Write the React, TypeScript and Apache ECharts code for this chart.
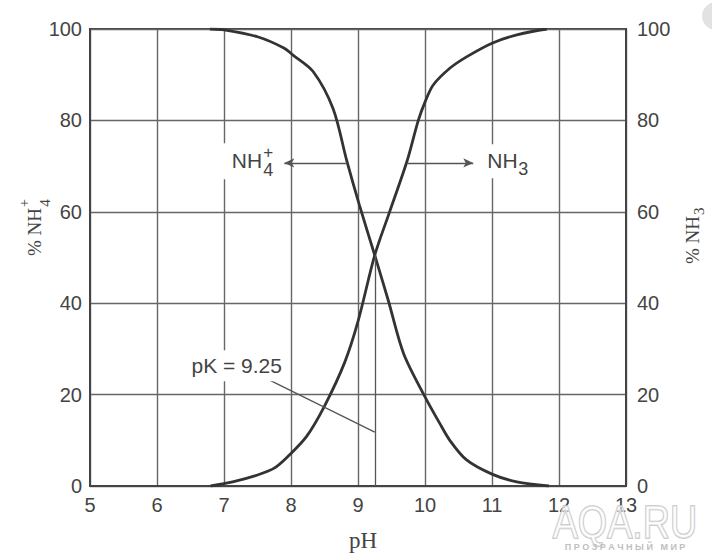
import React, { useEffect, useRef } from "react";
import * as echarts from "echarts";

// pH values and %
const NH4_PH = [6.79, 7.0, 7.5, 7.9, 8.03, 8.33, 8.63, 8.83, 9.02, 9.25, 9.45, 9.68, 10.0, 10.22, 10.37, 10.62, 11.0, 11.37, 11.85];
const NH4_PCT = [100, 99.8, 98.3, 95.8, 94.3, 90.7, 82.5, 71.3, 61.5, 50.5, 40.7, 29.0, 19.5, 13.7, 10.0, 5.7, 2.6, 0.9, 0];
const NH3_PH = [6.8, 7.13, 7.5, 7.75, 7.95, 8.23, 8.5, 8.8, 9.0, 9.25, 9.46, 9.73, 9.9, 10.0, 10.12, 10.37, 10.62, 11.0, 11.37, 11.82];
const NH3_PCT = [0, 0.9, 2.4, 3.9, 6.4, 10.8, 17.5, 27.0, 36.0, 50.5, 59.5, 71.0, 80.0, 84.0, 87.7, 91.4, 93.9, 96.9, 98.7, 100];

const PK = 9.25;
const CROSS = 50.5;
const ARROW_Y = 70.7;
const NH4_ARROW = [8.84, 7.9];
const NH3_ARROW = [9.73, 10.72];
const PK_LEADER = [[7.62, 23.6], [PK, 11.8]];
const NH4_LABEL = [7.57, 71.3];
const NH3_LABEL = [10.93, 71.3];
const PK_LABEL = [7.19, 26.3];
const PK_TEXT = "pK = 9.25";

const SANS = '"Liberation Sans", Arial, sans-serif';
const SERIF = '"Liberation Serif", "Times New Roman", serif';
const TXT = "#444";

export default function App() {
  const ref = useRef<HTMLDivElement>(null);
  useEffect(() => {
    const el = ref.current!;
    const chart = echarts.init(el, null, { renderer: "svg" });
    const ax = {
      type: "value",
      min: 0,
      max: 100,
      interval: 20,
      axisTick: { show: false },
      axisLine: { show: true, lineStyle: { color: "#444", width: 2 } },
      axisLabel: { color: TXT, fontSize: 20, fontFamily: SANS },
    };
    const arrowLine = (from: number, to: number) => [
      { coord: [from, ARROW_Y], symbol: "none" },
      { coord: [to, ARROW_Y], symbol: "arrow", symbolSize: [7, 10] },
    ];
    chart.setOption({
      animation: false,
      grid: { left: 90, right: 86, top: 29, bottom: 74, show: true, borderColor: "#444", borderWidth: 2, backgroundColor: "#fff" },
      xAxis: {
        type: "value",
        min: 5,
        max: 13,
        interval: 1,
        axisTick: { show: false },
        axisLine: { show: true, lineStyle: { color: "#444", width: 2 } },
        axisLabel: { color: TXT, fontSize: 20, fontFamily: SANS, margin: 9, showMinLabel: true, showMaxLabel: true },
        splitLine: { show: true, lineStyle: { color: "#666", width: 1.4 } },
      },
      yAxis: [
        { ...ax, position: "left", axisLabel: { ...ax.axisLabel, margin: 8 }, splitLine: { show: true, lineStyle: { color: "#666", width: 1.4 } } },
        { ...ax, position: "right", axisLabel: { ...ax.axisLabel, margin: 11 }, splitLine: { show: false } },
      ],
      series: [
        {
          type: "line",
          name: "NH4+",
          data: NH4_PH.map((x, i) => [x, NH4_PCT[i]]),
          showSymbol: false,
          smooth: 0.3,
          lineStyle: { color: "#333", width: 2.8 },
          silent: true,
          markLine: {
            silent: true,
            animation: false,
            symbol: "none",
            label: { show: false },
            lineStyle: { color: "#555", width: 1.3, type: "solid" },
            data: [
              [{ coord: [PK, 0] }, { coord: [PK, CROSS] }],
              arrowLine(NH4_ARROW[0], NH4_ARROW[1]),
              arrowLine(NH3_ARROW[0], NH3_ARROW[1]),
              [{ coord: PK_LEADER[0] }, { coord: PK_LEADER[1] }],
            ],
          },
        },
        {
          type: "line",
          name: "NH3",
          data: NH3_PH.map((x, i) => [x, NH3_PCT[i]]),
          showSymbol: false,
          smooth: 0.3,
          lineStyle: { color: "#333", width: 2.8 },
          silent: true,
        },
      ],
    });

    const p = (x: number, y: number) =>
      chart.convertToPixel({ xAxisIndex: 0, yAxisIndex: 0 }, [x, y]) as number[];
    const t = (x: number, y: number, text: string, font: string, align: string, extra: any = {}) => ({
      type: "text",
      x,
      y,
      z: 100,
      silent: true,
      style: {
        text,
        font,
        fill: TXT,
        align,
        textAlign: align,
        verticalAlign: "middle",
        textVerticalAlign: "middle",
        ...extra,
      },
    });
    const r = (x: number, y: number, width: number, height: number) => ({
      type: "rect",
      z: 99,
      silent: true,
      shape: { x, y, width, height },
      style: { fill: "#fff" },
    });
    const a4 = p(NH4_LABEL[0], NH4_LABEL[1]);
    const a3 = p(NH3_LABEL[0], NH3_LABEL[1]);
    const ak = p(PK_LABEL[0], PK_LABEL[1]);
    const f21 = `21px ${SANS}`;

    chart.setOption({
      graphic: [
        r(a4[0] - 42, a4[1] - 17, 60, 36),
        t(a4[0], a4[1], "NH", f21, "right"),
        t(a4[0] + 6, a4[1] - 8, "+", `17px ${SANS}`, "center"),
        t(a4[0] + 6, a4[1] + 10, "4", `18px ${SANS}`, "center"),
        r(a3[0] - 4, a3[1] - 16, 52, 34),
        t(a3[0], a3[1], "NH", f21, "left"),
        t(a3[0] + 31, a3[1] + 9, "3", `18px ${SANS}`, "left"),
        t(ak[0], ak[1], PK_TEXT, f21, "center", { backgroundColor: "#fff", padding: [5, 3, 5, 3] }),
        // axis titles
        {
          type: "group",
          x: 34,
          y: 230,
          rotation: Math.PI / 2,
          z: 100,
          children: [
            t(22, 0, "% NH", `19px ${SERIF}`, "right"),
            t(27, 11, "4", `15px ${SERIF}`, "center"),
            t(27, -10, "+", `14px ${SERIF}`, "center"),
          ],
        },
        {
          type: "group",
          x: 692,
          y: 238,
          rotation: Math.PI / 2,
          z: 100,
          children: [
            t(22, 0, "% NH", `19px ${SERIF}`, "right"),
            t(23, 7, "3", `15px ${SERIF}`, "left"),
          ],
        },
        t(363, 540, "pH", `23px ${SERIF}`, "center"),
        // watermark
        {
          type: "text",
          x: 625,
          y: 522,
          z: 120,
          scaleX: 0.82,
          silent: true,
          style: {
            text: "AQA.RU",
            fontSize: 46,
            fontFamily: SANS,
            fill: "rgba(255,255,255,0.55)",
            stroke: "#c4c4c4",
            lineWidth: 1.6,
            align: "center",
            textAlign: "center",
            verticalAlign: "middle",
            textVerticalAlign: "middle",
          },
        },
        {
          type: "text",
          x: 625,
          y: 547,
          z: 120,
          silent: true,
          style: {
            text: "П Р О З Р А Ч Н Ы Й   М И Р",
            fontSize: 9,
            fontWeight: "bold",
            fontFamily: SANS,
            fill: "#c0c0c0",
            align: "center",
            textAlign: "center",
            verticalAlign: "middle",
            textVerticalAlign: "middle",
          },
        },
        { type: "circle", shape: { cx: 716, cy: 16, r: 14 }, style: { fill: "#e2e2e2" }, z: 120, silent: true },
      ],
    });
    return () => chart.dispose();
  }, []);
  return <div ref={ref} style={{ position: "absolute", left: 0, top: 0, width: 712, height: 560, background: "#fff" }} />;
}
